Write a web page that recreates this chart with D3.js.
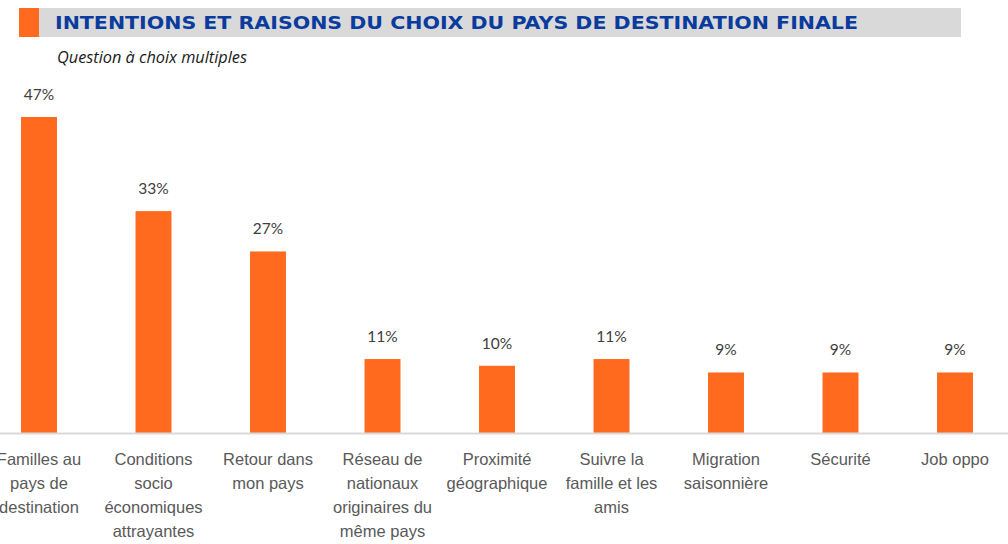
<!DOCTYPE html>
<html>
<head>
<meta charset="utf-8">
<script src="https://cdn.jsdelivr.net/npm/d3@7"></script>
<style>
  body { margin: 0; background: #fff; }
  svg { display: block; font-family: Lato, 'Noto Sans', sans-serif; }
</style>
</head>
<body>
<svg id="chart" width="1008" height="544"></svg>
<script>
// chart data
const categories = [
  'Familles au|pays de|destination',
  'Conditions|socio|économiques|attrayantes',
  'Retour dans|mon pays',
  'Réseau de|nationaux|originaires du|même pays',
  'Proximité|géographique',
  'Suivre la|famille et les|amis',
  'Migration|saisonnière',
  'Sécurité',
  'Job oppo'
]
const values = [47, 33, 27, 11, 10, 11, 9, 9, 9]
const title = 'INTENTIONS ET RAISONS DU CHOIX DU PAYS DE DESTINATION FINALE'
const subtitle = 'Question à choix multiples'

const svg = d3.select('#chart')
const baseline = 433

// header band
svg.append('rect')
  .attr('x', 19).attr('y', 8).attr('width', 942).attr('height', 29)
  .attr('fill', '#d9d9d9')
svg.append('rect')
  .attr('x', 19).attr('y', 8).attr('width', 20).attr('height', 29)
  .attr('fill', '#ff6a1f')
svg.append('text')
  .attr('x', 55).attr('y', 29)
  .attr('font-family', "'DejaVu Sans', sans-serif")
  .attr('font-size', 18.5).attr('font-weight', 700)
  .attr('fill', '#0a3b9e')
  .attr('textLength', 803).attr('lengthAdjust', 'spacingAndGlyphs')
  .text(title)
svg.append('text')
  .attr('x', 57).attr('y', 63)
  .attr('font-family', "'Open Sans', sans-serif")
  .attr('font-size', 15.5).attr('font-style', 'italic')
  .attr('fill', '#1a1a1a')
  .attr('textLength', 190).attr('lengthAdjust', 'spacingAndGlyphs')
  .text(subtitle)

const xScale = d3.scaleBand()
  .domain(categories)
  .range([-18.25, 1012.25])
  .paddingInner(0.686)
  .paddingOuter(0.343)

const yScale = d3.scaleLinear()
  .domain([0, 47])
  .range([baseline, 117])

// bars
svg.selectAll('.bar')
  .data(values)
  .enter()
  .append('rect')
  .attr('class', 'bar')
  .attr('x', (d, i) => xScale(categories[i]))
  .attr('width', xScale.bandwidth())
  .attr('y', d => yScale(d))
  .attr('height', d => baseline - yScale(d))
  .attr('fill', '#ff6a1f')

// value labels
svg.selectAll('.val')
  .data(values)
  .enter()
  .append('text')
  .attr('class', 'val')
  .attr('x', (d, i) => xScale(categories[i]) + xScale.bandwidth() / 2)
  .attr('y', d => yScale(d) - 17)
  .attr('text-anchor', 'middle')
  .attr('font-size', 15.5)
  .attr('fill', '#404040')
  .text(d => d + '%')

// x axis
const axis = svg.append('g')
  .attr('transform', 'translate(0,' + baseline + ')')
  .call(d3.axisBottom(xScale).tickSize(0).tickFormat(''))
axis.select('.domain').attr('stroke', '#d9d9d9').attr('stroke-width', 2)
  .attr('d', 'M0,0.5H1008')

axis.selectAll('.tick').each(function(d) {
  const t = d3.select(this).append('text')
    .attr('text-anchor', 'middle')
    .attr('font-size', 16.5)
    .attr('fill', '#595959')
  d.split('|').forEach((line, j) => {
    t.append('tspan').attr('x', 0).attr('y', 32 + j * 24).text(line)
  })
})
</script>
</body>
</html>
